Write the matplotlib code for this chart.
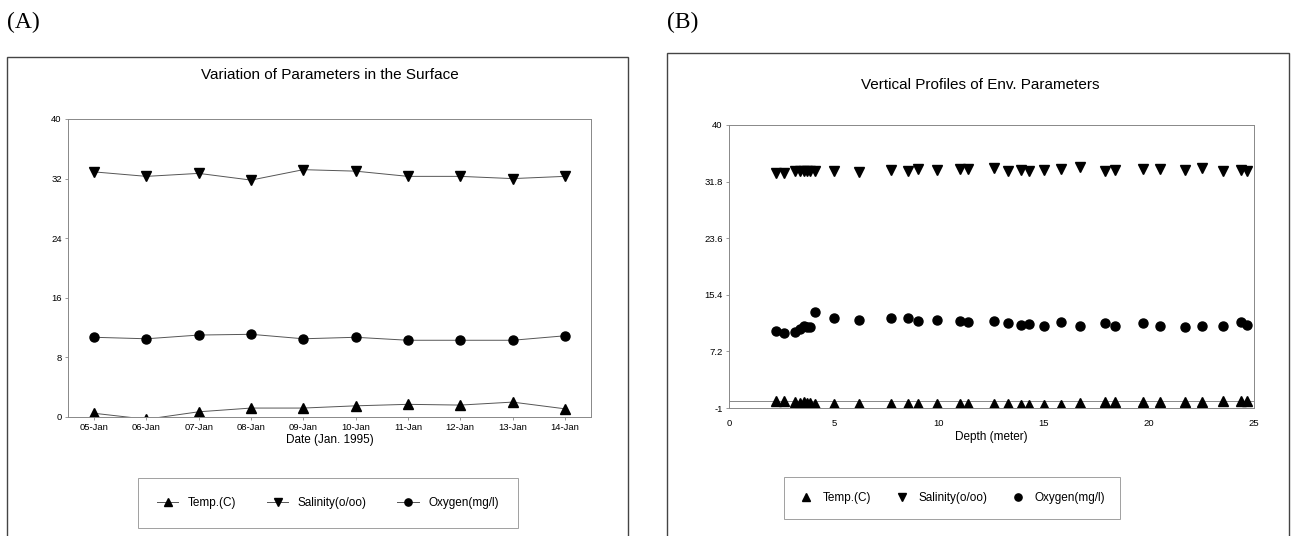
import matplotlib
matplotlib.use("Agg")
import matplotlib.pyplot as plt
from matplotlib.patches import Rectangle
import numpy as np

plt.rcParams['font.family'] = ['Liberation Sans', 'DejaVu Sans']

# panel A: surface values by day
days = ["05-Jan", "06-Jan", "07-Jan", "08-Jan", "09-Jan",
        "10-Jan", "11-Jan", "12-Jan", "13-Jan", "14-Jan"]
surf_temp = [0.5, -0.3, 0.7, 1.2, 1.2, 1.5, 1.7, 1.6, 2.0, 1.1]
surf_sal = [32.9, 32.3, 32.7, 31.8, 33.2, 33.0, 32.3, 32.3, 32.0, 32.3]
surf_oxy = [10.7, 10.5, 11.0, 11.1, 10.5, 10.7, 10.3, 10.3, 10.3, 10.9]

# panel B: vertical profiles
depth = [2.24, 2.64, 3.14, 3.38, 3.55, 3.7, 3.86, 4.1, 5.0, 6.2, 7.7, 8.5,
         9.0, 9.9, 11.0, 11.4, 12.6, 13.3, 13.9, 14.3, 15.0, 15.8, 16.7,
         17.9, 18.4, 19.7, 20.5, 21.7, 22.5, 23.5, 24.4, 24.65]
prof_temp = [0.0, 0.0, -0.2, -0.25, -0.2, -0.25, -0.3, -0.35, -0.35, -0.4,
             -0.4, -0.4, -0.45, -0.45, -0.45, -0.4, -0.4, -0.45, -0.5, -0.5,
             -0.5, -0.5, -0.3, -0.15, -0.15, -0.1, -0.1, -0.15, -0.1, -0.05,
             -0.05, -0.05]
prof_sal = [33.0, 33.0, 33.4, 33.4, 33.3, 33.3, 33.3, 33.3, 33.3, 33.2,
            33.5, 33.4, 33.6, 33.5, 33.6, 33.6, 33.7, 33.4, 33.5, 33.4,
            33.5, 33.6, 33.9, 33.4, 33.5, 33.6, 33.6, 33.5, 33.7, 33.4,
            33.5, 33.4]
prof_oxy = [10.1, 9.9, 9.95, 10.4, 10.9, 10.7, 10.8, 12.9, 12.1, 11.8,
            12.1, 12.0, 11.65, 11.8, 11.65, 11.4, 11.55, 11.3, 11.0, 11.17,
            10.92, 11.4, 10.92, 11.26, 10.83, 11.26, 10.83, 10.68, 10.92,
            10.92, 11.4, 11.07]

labels = ["Temp.(C)", "Salinity(o/oo)", "Oxygen(mg/l)"]
markers = ["^", "v", "o"]

W, H = 1294, 536
fig = plt.figure(figsize=(W / 100, H / 100), dpi=100)

def fx(px):
    return px / W

def fy(py):
    return 1 - py / H

# outer frames of the two panels
for x0, y0, x1 in [(7, 57, 628), (667, 53, 1289)]:
    fig.add_artist(Rectangle((fx(x0), -0.05), fx(x1 - x0), fy(y0) + 0.05,
                             transform=fig.transFigure, fill=False,
                             ec='#444444', lw=1.0))

fig.text(fx(7), fy(22), "(A)", family=['Liberation Serif', 'DejaVu Serif'],
         fontsize=17, va='center', ha='left')
fig.text(fx(667), fy(22), "(B)", family=['Liberation Serif', 'DejaVu Serif'],
         fontsize=17, va='center', ha='left')


def style(ax):
    for s in ax.spines.values():
        s.set_color('#888888')
        s.set_linewidth(0.7)
    ax.tick_params(labelsize=6.8, length=2.5, width=0.6, color='#888888', pad=2)


# ----- panel A
axA = fig.add_axes([fx(68), fy(417), fx(591 - 68), (417 - 119) / H])
x = np.arange(len(days))
for vals, m, lab in zip([surf_temp, surf_sal, surf_oxy], markers, labels):
    axA.plot(x, vals, marker=m, color='#555555', lw=0.7, ms=6.5,
             mfc='black', mec='black', label=lab)
axA.set_xlim(-0.5, len(days) - 0.5)
axA.set_ylim(0, 40)
axA.set_yticks(np.arange(0, 41, 8))
axA.set_xticks(x)
axA.set_xticklabels(days)
style(axA)
axA.set_xlabel("Date (Jan. 1995)", fontsize=8.5, labelpad=1)
fig.text(fx(330), fy(75), "Variation of Parameters in the Surface",
         fontsize=11, ha='center', va='center')
legA = axA.legend(loc='center', bbox_to_anchor=(fx(328), fy(503)),
                  bbox_transform=fig.transFigure, ncol=3, fontsize=8.5,
                  frameon=True, fancybox=False, edgecolor='#888888',
                  handlelength=1.8, columnspacing=2.6, borderpad=1.6,
                  markerscale=0.8)
legA.get_frame().set_linewidth(0.7)

# ----- panel B
axB = fig.add_axes([fx(729), fy(408), fx(1254 - 729), (408 - 125) / H])
for vals, m, lab in zip([prof_temp, prof_sal, prof_oxy], markers, labels):
    axB.plot(depth, vals, marker=m, ls='none', ms=6.5, color='black',
             label=lab)
axB.axhline(0, color='#888888', lw=0.7, zorder=0)
axB.set_xlim(0, 25)
axB.set_ylim(-1, 40)
yt = [-1, 7.2, 15.4, 23.6, 31.8, 40]
axB.set_yticks(yt)
axB.set_yticklabels(["-1", "7.2", "15.4", "23.6", "31.8", "40"])
axB.set_xticks(np.arange(0, 26, 5))
style(axB)
axB.tick_params(axis='x', length=0, pad=8)
axB.set_xlabel("Depth (meter)", fontsize=8.5, labelpad=2)
fig.text(fx(980), fy(85), "Vertical Profiles of Env. Parameters",
         fontsize=11, ha='center', va='center')
legB = axB.legend(loc='center', bbox_to_anchor=(fx(952), fy(498)),
                  bbox_transform=fig.transFigure, ncol=3, fontsize=8.5,
                  frameon=True, fancybox=False, edgecolor='#888888',
                  handlelength=1.2, columnspacing=2.0, borderpad=1.3,
                  markerscale=0.8)
legB.get_frame().set_linewidth(0.7)

fig.savefig("out.png", dpi=100)
